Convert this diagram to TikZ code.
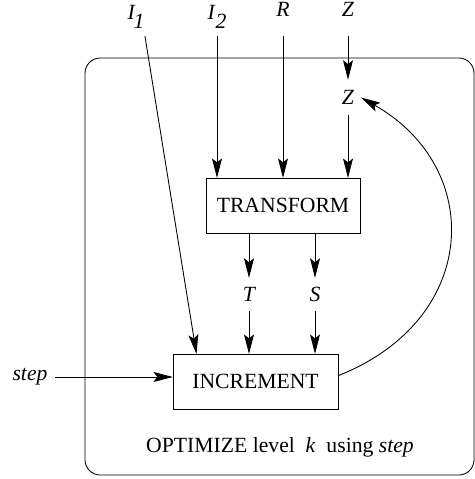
\documentclass[tikz,border=0pt]{standalone}
\usepackage{fontspec}
\setmainfont{Liberation Serif}
\usetikzlibrary{arrows.meta}

\begin{document}
\begin{tikzpicture}[x=0.4615pt, y=-0.4615pt, thin,
  tip/.style={-{Stealth[length=9pt, width=4.6pt, inset=1.8pt]}},
  box/.style={draw, outer sep=0pt, minimum height=25.4pt, font=\fontsize{10}{12}\selectfont},
  toplbl/.style={anchor=south, inner sep=0pt, text depth=8.8pt, font=\fontsize{10}{12}\selectfont\itshape},
  ilbl/.style={anchor=south, inner sep=0pt, text depth=7.4pt, font=\fontsize{10}{12}\selectfont\itshape},
  midlbl/.style={inner sep=0pt, minimum height=15pt, font=\fontsize{10}{12}\selectfont\itshape}]

\useasboundingbox (0,0) rectangle (475,479);

\draw[rounded corners=7pt] (85,58) rectangle (474,475);

\node[ilbl] (i1) at (136,36) {I\kern-0.5pt\raisebox{-4pt}{1}};
\node[ilbl] (i2) at (217,36) {I\kern0.3pt\raisebox{-4pt}{2}};
\node[toplbl] (r) at (283,36) {R};
\node[toplbl] (z) at (348,36) {Z};

\node[midlbl, inner xsep=3pt, minimum height=16pt] (zin) at (348,97.5) {Z};

\node[box, minimum width=71.1pt] (transform) at (283,205.5) {TRANSFORM};

\node[midlbl] (t) at (249,294.5) {T};
\node[midlbl] (s) at (315,294.5) {S};

\node[box, minimum width=76.2pt] (increment) at (255.5,381.5) {INCREMENT};

\node[font=\fontsize{10}{12}\selectfont\itshape] (step) at (30,377) {step};

\node[font=\fontsize{10}{12}\selectfont] (opt) at (280,447) {OPTIMIZE level~~\textit{k}~~using \textit{step}};

\draw[tip] (z) -- (zin);
\draw[tip] (i2) -- (transform.north -| i2);
\draw[tip] (r) -- (transform.north -| r);
\draw[tip] (zin) -- (transform.north -| zin);
\draw[tip] (transform.south -| t) -- (t);
\draw[tip] (transform.south -| s) -- (s);
\draw[tip] (t) -- (increment.north -| t);
\draw[tip] (s) -- (increment.north -| s);
\draw[tip] (i1.south east) -- (increment.155);
\draw[tip] (step) -- (step -| increment.west);
\draw[tip] (increment.4) .. controls +(142,-56) and +(124,70) .. (zin.east);% back to Z
\end{tikzpicture}
\end{document}
